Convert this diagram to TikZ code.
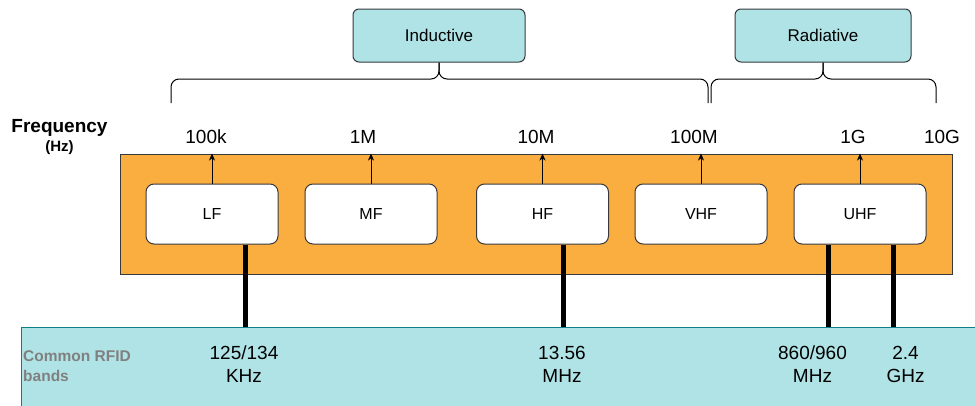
\documentclass[tikz,border=0pt]{standalone}
\usepackage{fontspec}
\setmainfont{Liberation Sans}
\usetikzlibrary{arrows.meta}
\definecolor{bandcyan}{RGB}{176,227,230}
\definecolor{bandteal}{RGB}{14,128,136}
\definecolor{specorange}{RGB}{250,174,64}
\definecolor{boxline}{RGB}{54,57,61}
\definecolor{notegray}{RGB}{128,128,128}
\tikzset{
  mode box/.style={draw=boxline, fill=bandcyan, rounded corners=6pt, line width=1pt, minimum height=53pt, inner sep=0pt, font=\fontsize{17}{20}\selectfont},
  band box/.style={draw=boxline, fill=white, rounded corners=8pt, line width=1pt, minimum width=132pt, minimum height=60pt, inner sep=0pt, font=\fontsize{16}{19}\selectfont},
  tick label/.style={anchor=base, inner sep=0pt, font=\fontsize{19}{23}\selectfont},
  rfid label/.style={align=center, inner sep=0pt, font=\fontsize{19}{23}\selectfont},
  rfid link/.style={line width=5pt},
  brace/.style={rounded corners=8pt, line width=1pt}
}

\begin{document}
\begin{tikzpicture}[x=1pt,y=1pt,yscale=-1,xscale=1]
\path[use as bounding box] (0,0) rectangle (975,405);

%Shape: Rectangle [bottom band]
\node[draw=bandteal, fill=bandcyan, line width=1pt, minimum width=964pt, minimum height=84pt, inner sep=0pt] (band) at (503,369) {};
%Shape: Rectangle [spectrum]
\node[draw=boxline, fill=specorange, line width=1pt, minimum width=832pt, minimum height=120pt, inner sep=0pt] (spec) at (536,214) {};

%Shape: Rounded Rectangle [bands]
\node[band box] (LF) at (212,214) {LF};
\node[band box] (MF) at (371,214) {MF};
\node[band box] (HF) at (542.5,214) {HF};
\node[band box] (VHF) at (701,214) {VHF};
\node[band box] (UHF) at (860,214) {UHF};

%Shape: Rounded Rectangle [modes]
\node[mode box, minimum width=172pt] (inductive) at (439,35.5) {Inductive};
\node[mode box, minimum width=176pt] (radiative) at (823,35.5) {Radiative};

%Curve Lines [braces]
\draw[brace] (171,103) |- (inductive.south |- 0,79) -- (inductive.south);
\draw[brace] (708,103) |- (inductive.south |- 0,79) -- (inductive.south);
\draw[brace] (711,103) |- (radiative.south |- 0,79) -- (radiative.south);
\draw[brace] (936,103) |- (radiative.south |- 0,79) -- (radiative.south);

%Straight Lines [arrows]
\foreach \b in {LF,MF,HF,VHF,UHF}
  \draw[-{Stealth[length=7pt,width=6pt,inset=2pt]}, line width=1pt] (\b.north) -- (\b.north |- spec.north);

%Straight Lines [rfid links]
\draw[rfid link] ([xshift=33pt]LF.south) -- ([xshift=33pt]LF.south |- band.north);
\draw[rfid link] ([xshift=20.5pt]HF.south) -- ([xshift=20.5pt]HF.south |- band.north);
\draw[rfid link] ([xshift=-32pt]UHF.south) -- ([xshift=-32pt]UHF.south |- band.north);
\draw[rfid link] ([xshift=33pt]UHF.south) -- ([xshift=33pt]UHF.south |- band.north);

% Text Node
\node[anchor=base, inner sep=0pt, font=\bfseries\fontsize{19}{23}\selectfont] (freq) at (59.5,132) {Frequency};
% Text Node
\node[anchor=base, inner sep=0pt, font=\bfseries\fontsize{15}{18}\selectfont] (hz) at (59.5,151) {(Hz)};
% Text Node
\node[tick label] (t100k) at (206,143) {100k};
\node[tick label] (t1M) at (363,143) {1M};
\node[tick label] (t10M) at (536,143) {10M};
\node[tick label] (t100M) at (694,143) {100M};
\node[tick label] (t1G) at (853,143) {1G};
\node[tick label] (t10G) at (942,143) {10G};
% Text Node
\node[anchor=west, align=left, inner sep=0pt, text=notegray, font=\bfseries\fontsize{15.5}{20}\selectfont] (common) at (23,366.5) {Common RFID\\bands};
% Text Node
\node[rfid label] (lf125) at (244,364) {125/134\\KHz};
\node[rfid label] (hf1356) at (562,364) {13.56\\MHz};
\node[rfid label] (uhf860) at (812.5,364) {860/960\\MHz};
\node[rfid label] (uhf24) at (905.5,364) {2.4\\GHz};

\end{tikzpicture}
\end{document}
